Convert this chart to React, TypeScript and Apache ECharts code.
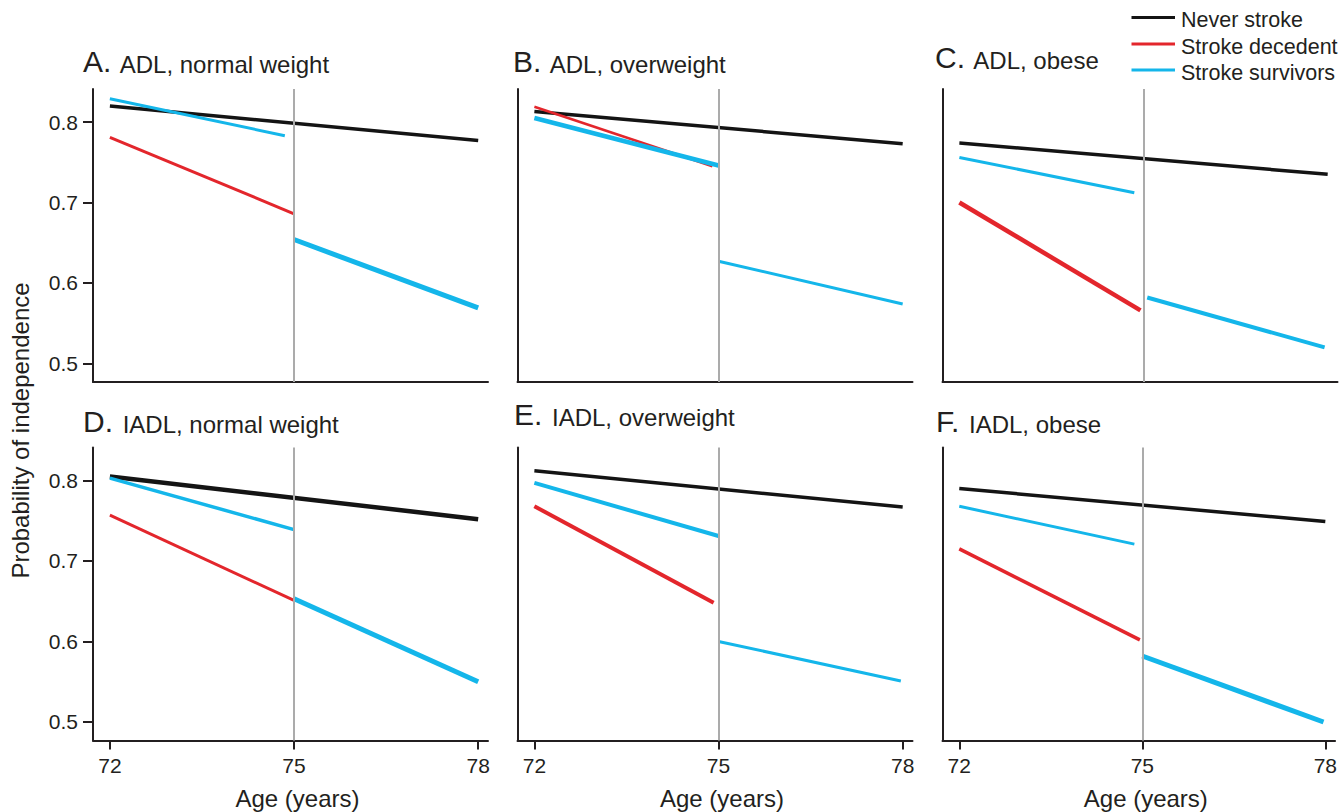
import React, { useEffect, useRef } from "react";
import * as echarts from "echarts";

// ---------- data ----------
const panelLetters = ["A.", "B.", "C.", "D.", "E.", "F."];
const panelTitles = [
  "ADL, normal weight",
  "ADL, overweight",
  "ADL, obese",
  "IADL, normal weight",
  "IADL, overweight",
  "IADL, obese",
];
const seriesNames = ["Never stroke", "Stroke decedent", "Stroke survivors"];
const ageTicks = [72, 75, 78];
const probTicks = [0.5, 0.6, 0.7, 0.8];
const strokeAge = 75;

const neverStroke = [
  [[72, 0.82], [78, 0.777]],
  [[72, 0.813], [78, 0.773]],
  [[72, 0.774], [78, 0.735]],
  [[72, 0.805], [78, 0.752]],
  [[72, 0.812], [78, 0.767]],
  [[72, 0.79], [78, 0.749]],
];
const strokeDecedent = [
  [[72, 0.781], [75, 0.686]],
  [[72, 0.819], [74.9, 0.745]],
  [[72, 0.7], [74.95, 0.566]],
  [[72, 0.757], [75, 0.651]],
  [[72, 0.768], [74.92, 0.648]],
  [[72, 0.715], [74.96, 0.602]],
];
const survivorsBefore = [
  [[72, 0.829], [74.85, 0.783]],
  [[72, 0.805], [75, 0.746]],
  [[72, 0.756], [74.85, 0.712]],
  [[72, 0.803], [75, 0.739]],
  [[72, 0.797], [75, 0.731]],
  [[72, 0.768], [74.87, 0.721]],
];
const survivorsAfter = [
  [[75, 0.654], [78, 0.569]],
  [[75, 0.627], [78, 0.574]],
  [[75.06, 0.582], [77.95, 0.52]],
  [[75, 0.653], [78, 0.55]],
  [[75, 0.6], [77.97, 0.551]],
  [[75, 0.582], [77.97, 0.5]],
];

// ---------- layout / styles ----------
const FONT = "'Liberation Sans', Arial, Helvetica, sans-serif";
const TEXT = "#231f20";
const BLACK = "#141414";
const RED = "#e3262c";
const CYAN = "#14b6ea";
const GRAY = "#ababab";
const LEGEND_COLORS = [BLACK, RED, CYAN];
const GRID_LEFTS = [93, 517.5, 942.5];
const GRID_TOPS = [89, 447.5];
const GRID_W = 395;
const GRID_H = 293;
const X_MIN = 71.725;
const X_MAX = 78.16;
const Y_MIN = 0.477;
const Y_MAX = 0.841;
const TITLE_X = [83, 513, 935, 83, 514, 936];
const TITLE_BASE = [71.7, 71.7, 68.3, 431.7, 425, 431.7];
const W_NEVER = [3.5, 3.5, 3.5, 4.5, 3.5, 3.5];
const W_DEC = [3, 2.5, 4.5, 3, 4, 3.5];
const W_PRE = [3, 4.5, 3, 3.5, 4, 3];
const W_POST = [5, 3, 4, 5, 3, 5];
const LEGEND_X0 = 1131.5;
const LEGEND_X1 = 1175;
const LEGEND_TEXT_X = 1181;
const LEGEND_Y = [17.5, 44, 70];

function buildOption() {
  const grid: any[] = [];
  const xAxis: any[] = [];
  const yAxis: any[] = [];
  const series: any[] = [];
  for (let i = 0; i < 6; i++) {
    const row = Math.floor(i / 3);
    const col = i % 3;
    const bottomRow = row === 1;
    const firstCol = col === 0;
    grid.push({
      left: GRID_LEFTS[col],
      top: GRID_TOPS[row],
      width: GRID_W,
      height: GRID_H,
      containLabel: false,
    });
    xAxis.push({
      type: "value",
      gridIndex: i,
      min: X_MIN,
      max: X_MAX,
      axisLine: { show: true, onZero: false, lineStyle: { color: TEXT, width: 2 } },
      axisTick: {
        show: bottomRow,
        customValues: ageTicks,
        length: 9,
        lineStyle: { color: TEXT, width: 2 },
      },
      axisLabel: {
        show: bottomRow,
        customValues: ageTicks,
        margin: 14,
        fontSize: 21,
        color: TEXT,
        fontFamily: FONT,
      },
      splitLine: { show: false },
      name: bottomRow ? "Age (years)" : "",
      nameLocation: "middle",
      nameGap: 46,
      nameTextStyle: {
        fontSize: 24,
        color: TEXT,
        fontFamily: FONT,
        padding: [0, 0, 0, 14],
      },
    });
    yAxis.push({
      type: "value",
      gridIndex: i,
      min: Y_MIN,
      max: Y_MAX,
      axisLine: { show: true, onZero: false, lineStyle: { color: TEXT, width: 2 } },
      axisTick: {
        show: firstCol,
        customValues: probTicks,
        length: 10,
        lineStyle: { color: TEXT, width: 2 },
      },
      axisLabel: {
        show: firstCol,
        customValues: probTicks,
        margin: 15,
        fontSize: 21,
        color: TEXT,
        fontFamily: FONT,
        formatter: (v: number) => v.toFixed(1),
      },
      splitLine: { show: false },
    });
    const base = {
      type: "line",
      xAxisIndex: i,
      yAxisIndex: i,
      symbol: "none",
      silent: true,
    };
    series.push({
      ...base,
      name: seriesNames[0],
      data: neverStroke[i],
      lineStyle: { color: BLACK, width: W_NEVER[i] },
      itemStyle: { color: BLACK },
      markLine: {
        silent: true,
        symbol: ["none", "none"],
        label: { show: false },
        lineStyle: { color: GRAY, width: 2, type: "solid" },
        data: [{ xAxis: strokeAge }],
      },
    });
    series.push({
      ...base,
      name: seriesNames[1],
      data: strokeDecedent[i],
      lineStyle: { color: RED, width: W_DEC[i] },
      itemStyle: { color: RED },
    });
    series.push({
      ...base,
      name: seriesNames[2],
      data: survivorsBefore[i],
      lineStyle: { color: CYAN, width: W_PRE[i] },
      itemStyle: { color: CYAN },
    });
    series.push({
      ...base,
      name: seriesNames[2],
      data: survivorsAfter[i],
      lineStyle: { color: CYAN, width: W_POST[i] },
      itemStyle: { color: CYAN },
    });
  }

  const graphic: any[] = panelLetters.map((L, i) => ({
    type: "text",
    x: TITLE_X[i],
    y: TITLE_BASE[i] + 4.5,
    silent: true,
    style: {
      text: `{l|${L}}{t| ${panelTitles[i]}}`,
      align: "left",
      verticalAlign: "bottom",
      rich: {
        l: { fontSize: 30, fontFamily: FONT, fill: TEXT, verticalAlign: "bottom" },
        t: {
          fontSize: 24,
          fontFamily: FONT,
          fill: TEXT,
          verticalAlign: "bottom",
          padding: [0, 0, 0, 3],
        },
      },
    },
  }));
  graphic.push({
    type: "text",
    x: 20,
    y: 430.5,
    rotation: Math.PI / 2,
    silent: true,
    style: {
      text: "Probability of independence",
      fontSize: 24,
      fontFamily: FONT,
      fill: TEXT,
      align: "center",
      verticalAlign: "middle",
    },
  });
  // legend (key)
  seriesNames.forEach((name, k) => {
    graphic.push({
      type: "line",
      silent: true,
      shape: { x1: LEGEND_X0, y1: LEGEND_Y[k], x2: LEGEND_X1, y2: LEGEND_Y[k] },
      style: { stroke: LEGEND_COLORS[k], lineWidth: 3 },
    });
    graphic.push({
      type: "text",
      silent: true,
      x: LEGEND_TEXT_X,
      y: LEGEND_Y[k] + 2.5,
      style: {
        text: name,
        fontSize: 21.5,
        fontFamily: FONT,
        fill: TEXT,
        align: "left",
        verticalAlign: "middle",
      },
    });
  });

  return {
    animation: false,
    backgroundColor: "#ffffff",
    textStyle: { fontFamily: FONT },
    grid,
    xAxis,
    yAxis,
    series,
    graphic,
  };
}

export default function App() {
  const ref = useRef<HTMLDivElement>(null);
  useEffect(() => {
    if (!ref.current) return;
    const chart = echarts.init(ref.current, undefined, { renderer: "svg" });
    chart.setOption(buildOption() as any);
    return () => chart.dispose();
  }, []);
  return (
    <div
      ref={ref}
      style={{ position: "fixed", left: 0, top: 0, width: 1340, height: 812, background: "#fff" }}
    />
  );
}
